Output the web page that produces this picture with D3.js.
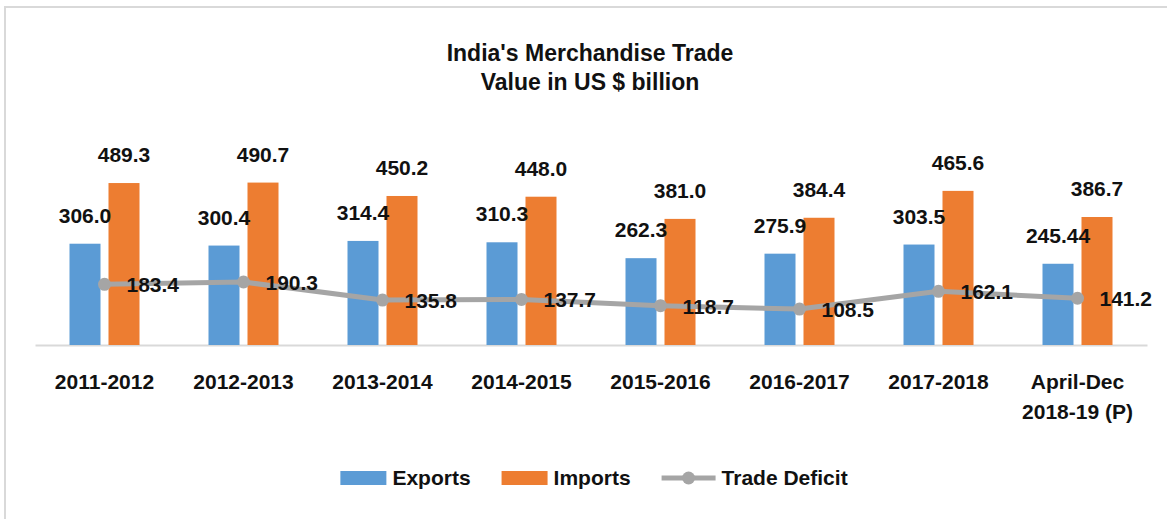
<!DOCTYPE html>
<html>
<head>
<meta charset="utf-8">
<script src="https://cdn.jsdelivr.net/npm/d3@7"></script>
<style>
    body { margin: 0; background: #fff; }
    text { font-family: "Liberation Sans", Arial, sans-serif; font-weight: bold; fill: #111; }
</style>
</head>
<body>
<svg class="visSVG"></svg>
<script>
const svgWidth = 1167;
const svgHeight = 519;

// data
const categories = ["2011-2012", "2012-2013", "2013-2014", "2014-2015", "2015-2016", "2016-2017", "2017-2018", "April-Dec\n2018-19 (P)"];
const exportsValues = [306.0, 300.4, 314.4, 310.3, 262.3, 275.9, 303.5, 245.44];
const importsValues = [489.3, 490.7, 450.2, 448.0, 381.0, 384.4, 465.6, 386.7];
const deficitValues = [183.4, 190.3, 135.8, 137.7, 118.7, 108.5, 162.1, 141.2];
const seriesNames = ["Exports", "Imports", "Trade Deficit"];
const titleLines = ["India's Merchandise Trade", "Value in US $ billion"];

const colours = ["#5b9bd5", "#ed7d31", "#a5a5a5"];

var margin = { left: 35, right: 20, baseline: 345 };

const svg = d3.select('.visSVG')
    .attr("width", svgWidth)
    .attr("height", svgHeight);

// chart border (cropped on right/bottom in the original)
svg.append("rect")
    .attr("x", 5).attr("y", 7)
    .attr("width", 1300).attr("height", 600)
    .attr("fill", "none")
    .attr("stroke", "#d9d9d9")
    .attr("stroke-width", 2);

// TITLE
svg.append("g").selectAll("text")
    .data(titleLines).enter().append("text")
        .attr("x", 590)
        .attr("y", (d, i) => 61 + i * 29)
        .attr("text-anchor", "middle")
        .style("font-size", "23px")
        .text(d => d);

// SCALES
const xScale = d3.scaleBand()
    .domain(categories)
    .range([margin.left, svgWidth - margin.right]);

const xSub = d3.scaleBand()
    .domain(["Exports", "Imports"])
    .range([xScale.bandwidth() / 2 - 35, xScale.bandwidth() / 2 + 35])
    .paddingInner(0.205);

const yScale = d3.scaleLinear()
    .domain([0, 600])
    .range([margin.baseline, margin.baseline - 600 * 0.331]);

const fmt = function(v) {
    var s = d3.format(".2f")(v);
    return s.endsWith("0") ? s.slice(0, -1) : s;
};

// X AXIS
const xAxis = svg.append("g")
    .attr("transform", "translate(0," + margin.baseline + ")")
    .call(d3.axisBottom(xScale).tickSize(0).tickSizeOuter(0));
xAxis.select(".domain").attr("stroke", "#d9d9d9").attr("stroke-width", 2);
xAxis.selectAll(".tick text").each(function(d) {
    const t = d3.select(this).text(null)
        .attr("y", 44).attr("dy", 0)
        .attr("font-family", null).attr("font-size", null)
        .style("font-size", "21px").attr("fill", "#111");
    d.split("\n").forEach(function(line, i) {
        t.append("tspan").attr("x", 0).attr("dy", i === 0 ? 0 : 30).text(line);
    });
});

// BARS
var barData = [];
categories.forEach(function(c, i) {
    barData.push({ cat: c, key: "Exports", value: exportsValues[i], k: 0 });
    barData.push({ cat: c, key: "Imports", value: importsValues[i], k: 1 });
});

svg.append("g").selectAll("rect")
    .data(barData).enter().append("rect")
        .attr("x", d => xScale(d.cat) + xSub(d.key))
        .attr("y", d => yScale(d.value))
        .attr("width", xSub.bandwidth())
        .attr("height", d => margin.baseline - yScale(d.value))
        .attr("fill", d => colours[d.k]);

// TRADE DEFICIT LINE
const line = d3.line()
    .x((d, i) => xScale(categories[i]) + xScale.bandwidth() / 2)
    .y(d => yScale(d));

svg.append("path")
    .datum(deficitValues)
    .attr("d", line)
    .attr("fill", "none")
    .attr("stroke", colours[2])
    .attr("stroke-width", 5)
    .attr("stroke-linejoin", "round");

svg.append("g").selectAll("circle")
    .data(deficitValues).enter().append("circle")
        .attr("cx", (d, i) => xScale(categories[i]) + xScale.bandwidth() / 2)
        .attr("cy", d => yScale(d))
        .attr("r", 6.5)
        .attr("fill", colours[2]);

// DATA LABELS (on top of all marks)
svg.append("g").selectAll("text")
    .data(barData).enter().append("text")
        .attr("x", d => xScale(d.cat) + xSub(d.key) + xSub.bandwidth() / 2)
        .attr("y", d => yScale(d.value) - 21)
        .attr("text-anchor", "middle")
        .style("font-size", "21px")
        .text(d => fmt(d.value));

svg.append("g").selectAll("text")
    .data(deficitValues).enter().append("text")
        .attr("x", (d, i) => xScale(categories[i]) + xScale.bandwidth() / 2 + 22)
        .attr("y", d => yScale(d) + 8)
        .style("font-size", "21px")
        .text(d => fmt(d));

// LEGEND
const legend = svg.append("g");
var lx = 0;
seriesNames.forEach(function(name, i) {
    const item = legend.append("g").attr("transform", "translate(" + lx + ",0)");
    var symW;
    if (i < 2) {
        symW = 46;
        item.append("rect")
            .attr("x", 0).attr("y", -14)
            .attr("width", symW).attr("height", 14)
            .attr("fill", colours[i]);
    } else {
        symW = 54;
        item.append("line")
            .attr("x1", 0).attr("x2", symW)
            .attr("y1", -7).attr("y2", -7)
            .attr("stroke", colours[2]).attr("stroke-width", 5);
        item.append("circle")
            .attr("cx", symW / 2).attr("cy", -7).attr("r", 6.5)
            .attr("fill", colours[2]);
    }
    const label = item.append("text")
        .attr("x", symW + 6)
        .attr("y", 0)
        .style("font-size", "21px")
        .text(name);
    lx += symW + 6 + label.node().getComputedTextLength() + 31;
});
lx -= 31;
legend.attr("transform", "translate(" + (594 - lx / 2) + ",485)");
</script>
</body>
</html>
